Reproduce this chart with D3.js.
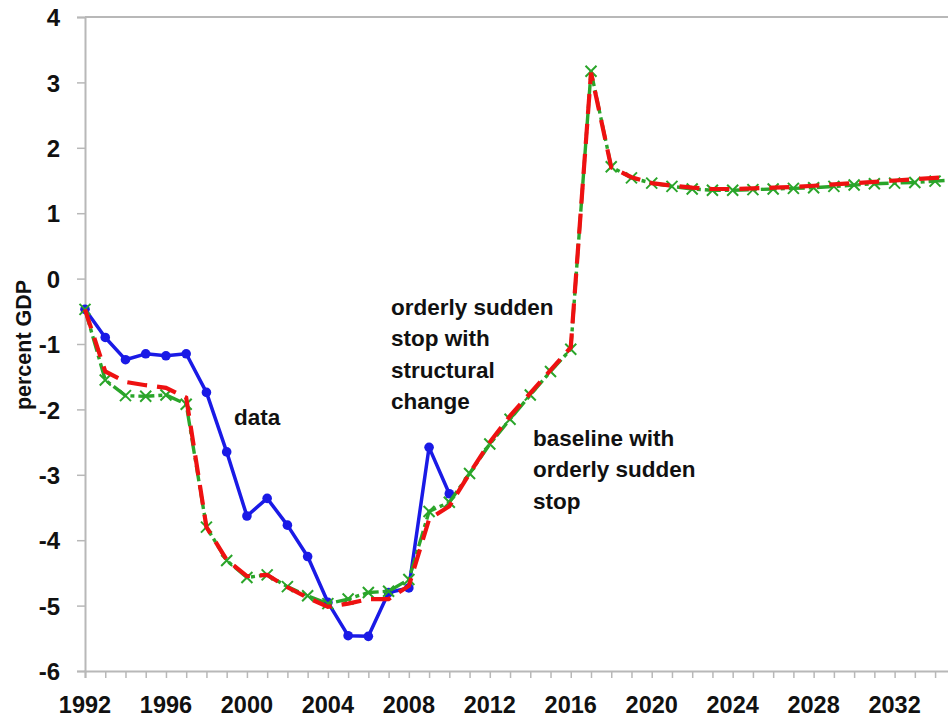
<!DOCTYPE html>
<html>
<head>
<meta charset="utf-8">
<script src="https://cdn.jsdelivr.net/npm/d3@7"></script>
<style>
  body { margin: 0; background: #fff; }
  svg text { font-family: "Liberation Sans", Arial, sans-serif; font-weight: bold; fill: #111; }
</style>
</head>
<body>
<svg id="chart" width="948" height="722"></svg>
<script>
// values
const dataYears = d3.range(1992, 2011);
const dataValues = [-0.47, -0.90, -1.24, -1.15, -1.18, -1.15, -1.74, -2.65, -3.63, -3.36,
    -3.77, -4.25, -4.95, -5.46, -5.47, -4.80, -4.73, -2.58, -3.29];

const modelYears = d3.range(1992, 2036);
// orderly sudden stop with structural change (green, x markers)
const structuralValues = [-0.47, -1.55, -1.79, -1.80, -1.78, -1.92, -3.80, -4.31, -4.57, -4.53,
    -4.71, -4.85, -4.97, -4.90, -4.80, -4.78, -4.60, -3.56, -3.42, -2.98,
    -2.53, -2.15, -1.78, -1.42, -1.08, 3.17, 1.71, 1.54, 1.46, 1.41,
    1.37, 1.35, 1.35, 1.36, 1.37, 1.38, 1.39, 1.41, 1.43, 1.45,
    1.46, 1.47, 1.49, 1.51];
// baseline with orderly sudden stop (red dashed)
const baselineValues = [-0.47, -1.42, -1.58, -1.63, -1.67, -1.82, -3.80, -4.30, -4.55, -4.53,
    -4.72, -4.88, -5.02, -4.97, -4.90, -4.90, -4.70, -3.68, -3.48, -2.98,
    -2.50, -2.10, -1.75, -1.40, -1.05, 3.15, 1.70, 1.55, 1.46, 1.42,
    1.39, 1.37, 1.37, 1.38, 1.39, 1.40, 1.42, 1.44, 1.46, 1.48,
    1.50, 1.52, 1.54, 1.56];

const yTicks = d3.range(-6, 5);
const xTickLabels = d3.range(1992, 2036, 4);

const annotations = [
    { lines: ["data"], x: 234, y: 425 },
    { lines: ["orderly sudden", "stop with", "structural", "change"], x: 391, y: 315 },
    { lines: ["baseline with", "orderly sudden", "stop"], x: 533, y: 446 }
];

const svg = d3.select("#chart");

const x = d3.scaleLinear().domain([1992, 2036]).range([85, 85 + 44 * 20.24]);
const y = d3.scaleLinear().domain([-6, 4]).range([671, 17]);

const axisColor = "#b8b8b8";

// top border line
svg.append("line")
    .attr("x1", x(1992)).attr("x2", 948)
    .attr("y1", y(4)).attr("y2", y(4))
    .attr("stroke", axisColor).attr("stroke-width", 2);

// y axis
const yAxis = svg.append("g")
    .attr("transform", `translate(${x(1992)},0)`)
    .call(d3.axisLeft(y).tickValues(yTicks).tickSize(8).tickPadding(17).tickFormat(d3.format("d")));
yAxis.select(".domain").attr("stroke", axisColor).attr("stroke-width", 2);
yAxis.selectAll(".tick line").attr("stroke", axisColor).attr("stroke-width", 1.5);
yAxis.selectAll(".tick text")
    .style("font-size", "24px")
    .attr("dy", "0.36em")
    .text(d => d < 0 ? "-" + Math.abs(d) : d);

// x axis
const xAxis = svg.append("g")
    .attr("transform", `translate(0,${y(-6)})`)
    .call(d3.axisBottom(x).tickValues(d3.range(1992, 2036)).tickSize(7).tickFormat(""));
xAxis.select(".domain").attr("stroke", axisColor).attr("stroke-width", 2);
xAxis.selectAll(".tick line").attr("stroke", axisColor).attr("stroke-width", 1.5);

svg.append("g").selectAll("text")
    .data(xTickLabels)
    .enter().append("text")
    .attr("x", d => x(d))
    .attr("y", 713)
    .attr("text-anchor", "middle")
    .style("font-size", "23.5px")
    .text(d => d);

// y axis title
svg.append("text")
    .attr("transform", "translate(31,345) rotate(-90)")
    .attr("text-anchor", "middle")
    .style("font-size", "21.5px")
    .text("percent GDP");

const line = d3.line()
    .x(d => x(d[0]))
    .y(d => y(d[1]));

const dataPts = dataYears.map((yr, i) => [yr, dataValues[i]]);
const structPts = modelYears.map((yr, i) => [yr, structuralValues[i]]);
const basePts = modelYears.map((yr, i) => [yr, baselineValues[i]]);

// data (blue)
svg.append("path")
    .attr("d", line(dataPts))
    .attr("fill", "none")
    .attr("stroke", "#1a1ae6")
    .attr("stroke-width", 3.5)
    .attr("stroke-linejoin", "round");
svg.append("g").selectAll("circle")
    .data(dataPts)
    .enter().append("circle")
    .attr("cx", d => x(d[0]))
    .attr("cy", d => y(d[1]))
    .attr("r", 4.8)
    .attr("fill", "#1a1ae6");

// structural change (green)
const green = "#2aa52a";
svg.append("path")
    .attr("d", line(structPts))
    .attr("fill", "none")
    .attr("stroke", green)
    .attr("stroke-width", 3.4)
    .attr("stroke-dasharray", "16,4,4,4");
const xs = 5.5;
svg.append("g").selectAll("path")
    .data(structPts)
    .enter().append("path")
    .attr("d", d => {
        const cx = x(d[0]), cy = y(d[1]);
        return `M${cx - xs},${cy - xs}L${cx + xs},${cy + xs}M${cx - xs},${cy + xs}L${cx + xs},${cy - xs}`;
    })
    .attr("stroke", green)
    .attr("stroke-width", 2)
    .attr("fill", "none");

// baseline (red dashed)
svg.append("path")
    .attr("d", line(basePts))
    .attr("fill", "none")
    .attr("stroke", "#ee1111")
    .attr("stroke-width", 4.2)
    .attr("stroke-dasharray", "20,10");

// annotations
annotations.forEach(a => {
    const t = svg.append("text")
        .attr("x", a.x)
        .attr("y", a.y)
        .style("font-size", "22.5px");
    a.lines.forEach((s, i) => {
        t.append("tspan")
            .attr("x", a.x)
            .attr("dy", i === 0 ? 0 : 31.3)
            .text(s);
    });
});
</script>
</body>
</html>
